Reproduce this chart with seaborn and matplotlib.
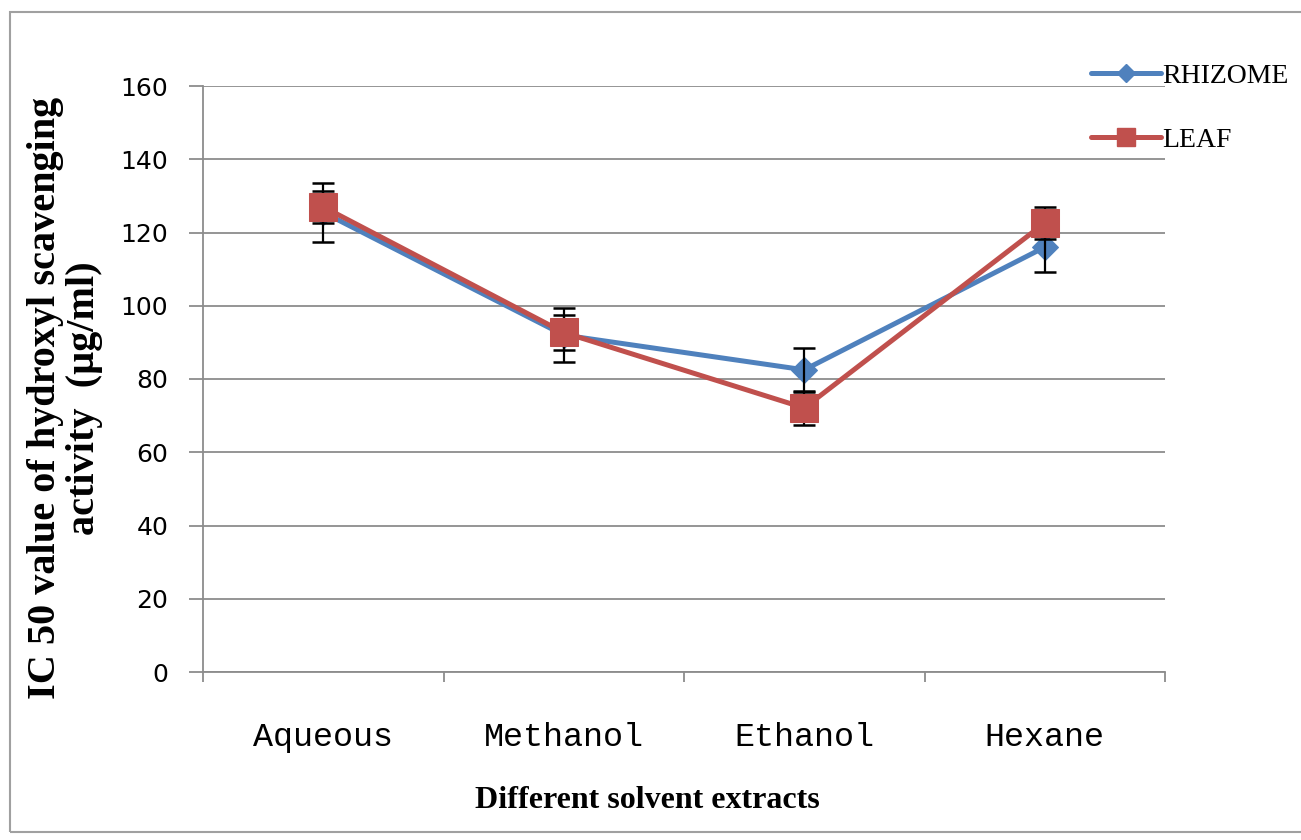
import matplotlib
matplotlib.use("Agg")
import matplotlib.pyplot as plt
import seaborn as sns
import pandas as pd
import numpy as np
from matplotlib.lines import Line2D
from matplotlib.patches import Rectangle

categories = ["Aqueous", "Methanol", "Ethanol", "Hexane"]
rhizome = [125.5, 92.0, 82.5, 116.0]
rhizome_err = [8.0, 7.4, 6.1, 6.8]
leaf = [127.0, 92.7, 72.1, 122.6]
leaf_err = [4.3, 4.8, 4.7, 4.4]
y_ticks = [0, 20, 40, 60, 80, 100, 120, 140, 160]

sns.set_theme(style="white")
plt.rcParams["font.family"] = ["Liberation Serif", "DejaVu Serif"]
plt.rcParams["text.color"] = "black"
plt.rcParams["axes.labelcolor"] = "black"

BLUE = "#4F81BD"
RED = "#C0504D"
GRAY = "#8C8C8C"

fig = plt.figure(figsize=(13.01, 8.4), dpi=100)
ax = fig.add_axes([203 / 1301, 1 - 672 / 840, (1165 - 203) / 1301, (672 - 86) / 840])

pos = list(range(len(categories)))
df_r = pd.DataFrame({"x": pos, "y": rhizome})
df_l = pd.DataFrame({"x": pos, "y": leaf})

sns.lineplot(data=df_r, x="x", y="y", ax=ax, color=BLUE, lw=3.6, marker="D",
             markersize=13, markeredgecolor=BLUE, zorder=3, label="RHIZOME")
ax.errorbar(pos, rhizome, yerr=rhizome_err, fmt="none", ecolor="black",
            elinewidth=1.6, capsize=8, capthick=1.8, zorder=4)
ax.errorbar(pos, leaf, yerr=leaf_err, fmt="none", ecolor="black",
            elinewidth=1.6, capsize=8, capthick=1.8, zorder=4)
sns.lineplot(data=df_l, x="x", y="y", ax=ax, color=RED, lw=3.6, marker="s",
             markersize=20, markeredgecolor=RED, zorder=5, label="LEAF")

ax.set_xlim(-0.5, 3.5)
ax.set_ylim(0, 160)
ax.set_yticks(y_ticks)
ax.set_yticklabels([str(v) for v in y_ticks], fontfamily="DejaVu Sans", fontsize=18)
ax.set_xticks(pos)
ax.set_xticklabels(categories, fontfamily="Liberation Mono", fontsize=24)
ax.set_xticks([-0.5, 0.5, 1.5, 2.5, 3.5], minor=True)
ax.tick_params(axis="x", which="major", length=0, pad=36, bottom=False, labelcolor="black")
ax.tick_params(axis="x", which="minor", length=7, width=1.3, color=GRAY, direction="out", bottom=True)
ax.tick_params(axis="y", which="major", length=10, width=1.3, color=GRAY, direction="out",
               pad=15, left=True, labelcolor="black")

ax.grid(axis="y", color=GRAY, lw=1.3, zorder=0)
ax.grid(axis="x", visible=False)
ax.set_axisbelow(True)
for s in ["top", "right"]:
    ax.spines[s].set_visible(False)
for s in ["left", "bottom"]:
    ax.spines[s].set_color(GRAY)
    ax.spines[s].set_linewidth(1.3)

ax.set_xlabel("Different solvent extracts", fontsize=23, fontweight="bold", color="black")
ax.xaxis.set_label_coords((647 - 203) / (1165 - 203), -(786 - 672) / (672 - 86))
ax.set_ylabel("IC 50 value of hydroxyl scavenging\nactivity  (\u00b5g/ml)", fontsize=29,
              fontweight="bold", linespacing=1.05, color="black", va="center")
ax.yaxis.set_label_coords(-(203 - 65) / (1165 - 203), (672 - 398) / (672 - 86))

handles = [Line2D([], [], color=BLUE, lw=3.6, marker="D", markersize=9),
           Line2D([], [], color=RED, lw=3.6, marker="s", markersize=13)]
ax.legend(handles, ["RHIZOME", "LEAF"], loc="upper left", bbox_to_anchor=(1080 / 1301, 1 - 52 / 840),
          bbox_transform=fig.transFigure, frameon=False, fontsize=20, handlelength=2.5,
          handletextpad=0.05, labelspacing=1.4, borderaxespad=0)

fig.patches.append(Rectangle((10 / 1301, 1 - 832 / 840), 1.1, (832 - 12) / 840,
                             transform=fig.transFigure, fill=False, edgecolor="#A0A0A0",
                             lw=1.5, zorder=-1))

fig.savefig("out.png", dpi=100, facecolor="white")
